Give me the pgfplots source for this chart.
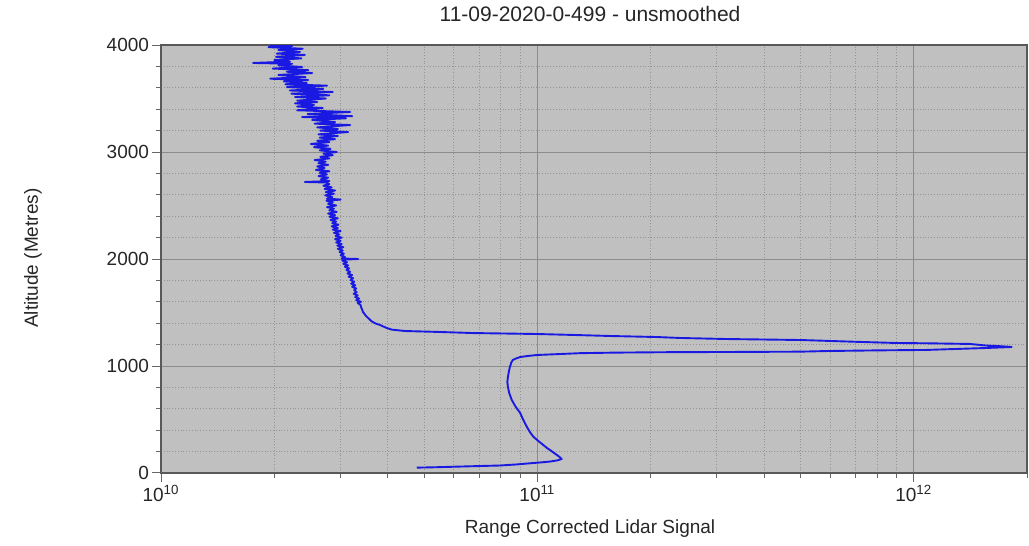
\documentclass[border=0pt]{standalone}
\usepackage{fontspec}
\setmainfont{Liberation Sans}
\usepackage{pgfplots}
\pgfplotsset{compat=1.18}
\definecolor{bgray}{RGB}{192,192,192}
\definecolor{lidarblue}{RGB}{25,25,225}
\begin{document}
\begin{tikzpicture}
\useasboundingbox (-80.5pt,-36.5pt) rectangle (434pt,236.5pt);
\begin{axis}[
  at={(0pt,0pt)}, anchor=south west,
  scale only axis, width=433pt, height=214pt,
  xmode=log, xmin=1e10, xmax=2e12, ymin=0, ymax=4000,
  axis background/.style={fill=bgray},
  axis line style={black!65, line width=0.6pt},
  grid=both,
  major grid style={black!45, line width=0.5pt},
  minor grid style={black!42, densely dotted, line width=0.5pt},
  xtick={1e10,1e11,1e12},
  xticklabels={10\textsuperscript{10},10\textsuperscript{11},10\textsuperscript{12}},
  minor xtick={2e10,3e10,4e10,5e10,6e10,7e10,8e10,9e10,2e11,3e11,4e11,5e11,6e11,7e11,8e11,9e11,2e12},
  ytick={0,1000,2000,3000,4000},
  minor y tick num=4,
  xtick pos=bottom, ytick pos=left,
  tick align=outside,
  major tick length=4.5pt, minor tick length=2.5pt,
  every tick/.style={black!60, line width=0.5pt},
  /pgf/number format/assume math mode=true,
  /pgf/number format/1000 sep={},
  tick label style={font=\fontsize{9.5}{11}\selectfont, text=black!85},
  xticklabel style={yshift=2pt},
  yticklabel style={xshift=2pt},
  every axis title shift=0pt,
  title={11-09-2020-0-499 - unsmoothed},
  title style={at={(axis description cs:0.4954,1.0724)}, anchor=center, font=\fontsize{10.5}{12}\selectfont, text=black!85},
  xlabel={Range Corrected Lidar Signal},
  xlabel style={at={(axis description cs:0.4954,-0.130)}, anchor=center, font=\fontsize{9.5}{11}\selectfont, text=black!85},
  ylabel={Altitude (Metres)},
  ylabel style={at={(axis description cs:-0.1478,0.502)}, anchor=center, rotate=0, font=\fontsize{9.5}{11}\selectfont, text=black!85},
]
\addplot[lidarblue, line width=0.95pt, line join=round] table {
4.78e10 50
5.4e10 54
6.2e10 60
7.0e10 65
7.95e10 70
8.8e10 80
9.73e10 93
1.03e11 100
1.08e11 107
1.13e11 118
1.16e11 131
1.145e11 150
1.115e11 180
1.085e11 210
1.06e11 234
1.03e11 270
1.005e11 300
9.75e10 340
9.55e10 383
9.38e10 430
9.25e10 470
9.12e10 515
9.0e10 561
8.75e10 620
8.55e10 682
8.42e10 745
8.35e10 804
8.32e10 850
8.35e10 897
8.4e10 950
8.45e10 991
8.52e10 1030
8.6e10 1056
8.8e10 1072
9.0e10 1084
9.5e10 1095
1.0e11 1103
1.15e11 1112
1.3e11 1120
1.6e11 1125
2.2e11 1129
3.2e11 1131
5.0e11 1134
5.9e11 1140
8.0e11 1146
1.08e12 1150
1.29e12 1159
1.55e12 1168
1.72e12 1174
1.82e12 1178
1.7e12 1185
1.55e12 1192
1.41e12 1206
1.1e12 1212
9.0e11 1215
6.9e11 1227
5.0e11 1243
3.2e11 1252
2.39e11 1262
2.07e11 1271
1.58e11 1280
1.25e11 1290
1.0e11 1299
6.75e10 1308
5.5e10 1318
4.45e10 1327
4.1e10 1340
3.98e10 1355
3.82e10 1383
3.70e10 1400
3.62e10 1420
3.55e10 1449
3.50e10 1470
3.44e10 1505
3.42e10 1530
3.40e10 1550
3.39e10 1570
3.33e10 1590
3.40e10 1600
3.30e10 1615
3.36e10 1630
3.28e10 1645
3.33e10 1660
3.25e10 1675
3.31e10 1690
3.26e10 1710
3.30e10 1725
3.22e10 1740
3.28e10 1755
3.20e10 1770
3.26e10 1785
3.19e10 1804
3.24e10 1820
3.15e10 1835
3.22e10 1850
3.13e10 1865
3.18e10 1880
3.11e10 1897
3.16e10 1912
3.08e10 1927
3.14e10 1940
3.05e10 1955
3.12e10 1970
3.03e10 1985
3.10e10 1995
3.34e10 2000
3.02e10 2005
3.08e10 2020
3.00e10 2035
3.06e10 2050
2.98e10 2065
3.04e10 2080
2.95e10 2095
3.05e10 2110
2.94e10 2125
3.02e10 2140
2.92e10 2155
3.00e10 2170
2.90e10 2185
3.02e10 2200
2.91e10 2215
2.97e10 2230
2.88e10 2245
3.00e10 2260
2.86e10 2275
2.95e10 2290
2.84e10 2305
2.96e10 2320
2.85e10 2335
2.92e10 2350
2.82e10 2365
2.95e10 2380
2.80e10 2395
2.90e10 2410
2.78e10 2425
2.93e10 2440
2.80e10 2455
2.88e10 2470
2.76e10 2485
2.92e10 2500
2.78e10 2515
2.86e10 2530
2.75e10 2545
3.00e10 2555
2.76e10 2565
2.85e10 2580
2.73e10 2595
2.88e10 2610
2.74e10 2625
2.90e10 2640
2.72e10 2655
2.84e10 2670
2.70e10 2685
2.80e10 2700
2.74e10 2715
2.41e10 2720
2.80e10 2728
2.66e10 2745
2.78e10 2760
2.62e10 2775
2.76e10 2790
2.64e10 2805
2.80e10 2820
2.58e10 2832
2.72e10 2850
2.60e10 2865
2.78e10 2880
2.62e10 2895
2.74e10 2910
2.56e10 2925
2.80e10 2940
2.65e10 2955
2.86e10 2970
2.70e10 2985
2.93e10 3000
2.64e10 3015
2.82e10 3030
2.55e10 3045
2.78e10 3060
2.50e10 3075
2.80e10 3093
2.60e10 3105
2.90e10 3120
2.64e10 3135
2.95e10 3150
2.62e10 3165
3.14e10 3187
2.65e10 3200
2.95e10 3215
2.60e10 3230
3.18e10 3252
2.56e10 3265
2.90e10 3280
2.52e10 3300
3.10e10 3315
2.37e10 3327
3.22e10 3335
2.45e10 3355
3.18e10 3374
2.30e10 3390
2.69e10 3411
2.30e10 3425
2.55e10 3440
2.27e10 3455
2.60e10 3467
2.30e10 3480
2.74e10 3500
2.27e10 3514
2.80e10 3530
2.22e10 3545
2.86e10 3561
2.20e10 3575
2.70e10 3590
2.16e10 3607
2.76e10 3620
2.14e10 3633
2.44e10 3645
2.12e10 3660
2.46e10 3673
1.95e10 3685
2.42e10 3700
2.05e10 3720
2.52e10 3738
2.16e10 3750
2.46e10 3765
1.98e10 3780
2.37e10 3794
2.05e10 3810
2.23e10 3825
1.756e10 3832
2.20e10 3845
2.00e10 3860
2.36e10 3875
2.02e10 3890
2.41e10 3907
2.03e10 3920
2.34e10 3935
2.05e10 3953
2.38e10 3965
1.93e10 3980
2.23e10 3991
1.95e10 4000
};
\end{axis}
\end{tikzpicture}
\end{document}
